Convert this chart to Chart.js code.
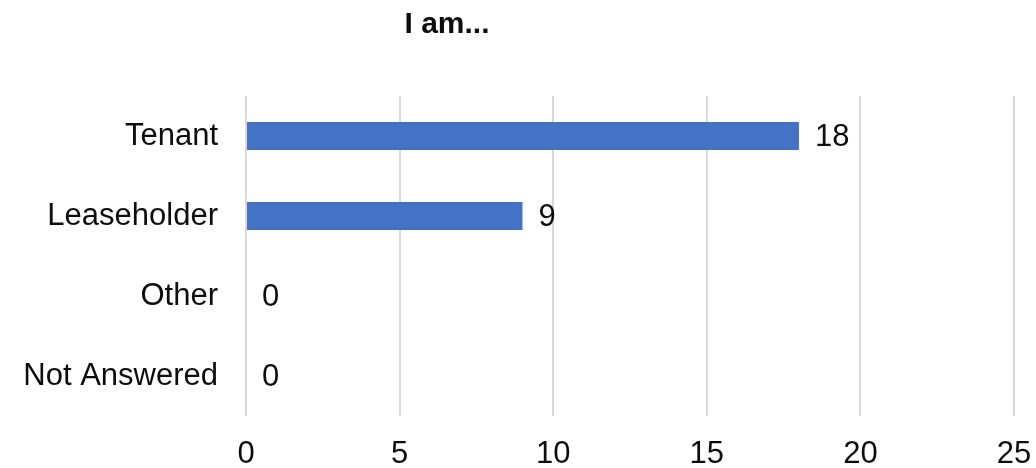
<!DOCTYPE html>
<html>
<head>
<meta charset="utf-8">
<title>I am...</title>
<script src="https://cdn.jsdelivr.net/npm/chart.js@4/dist/chart.umd.min.js"></script>
<style>
  html, body { margin: 0; padding: 0; background: #fff; }
  #wrap { width: 1036px; height: 468px; }
</style>
</head>
<body>
<div id="wrap"><canvas id="chart" width="1036" height="468"></canvas></div>
<script>
// Survey answers
const chartTitle = 'I am...';
const categories = ['Tenant', 'Leaseholder', 'Other', 'Not Answered'];
const counts = [18, 9, 0, 0];
const xTicks = [0, 5, 10, 15, 20, 25];

const FONT = "'Liberation Sans', Arial, sans-serif";
const TEXT = '#0d0d0d';
const SIZE = 31;

// Title sits left of centre, above the bars
const titlePlugin = {
    id: 'titleText',
    afterDraw(chart) {
        const ctx = chart.ctx;
        ctx.save();
        ctx.font = 'bold 30px ' + FONT;
        ctx.fillStyle = TEXT;
        ctx.textAlign = 'center';
        ctx.textBaseline = 'alphabetic';
        ctx.fillText(chartTitle, 447, 33);
        ctx.restore();
    }
};

// Value printed just past the end of each bar
const valueLabels = {
    id: 'valueLabels',
    afterDatasetsDraw(chart) {
        const ctx = chart.ctx;
        const meta = chart.getDatasetMeta(0);
        ctx.save();
        ctx.font = SIZE + 'px ' + FONT;
        ctx.fillStyle = TEXT;
        ctx.textAlign = 'left';
        ctx.textBaseline = 'middle';
        meta.data.forEach((bar, i) => {
            ctx.fillText(String(counts[i]), bar.x + 16, bar.y + 1);
        });
        ctx.restore();
    }
};

new Chart(document.getElementById('chart'), {
    type: 'bar',
    data: {
        labels: categories,
        datasets: [{
            data: counts,
            backgroundColor: '#4472C4',
            borderWidth: 0,
            categoryPercentage: 1,
            barPercentage: 0.35
        }]
    },
    options: {
        indexAxis: 'y',
        responsive: false,
        animation: false,
        layout: { padding: { top: 96, right: 22, bottom: 0, left: 0 } },
        plugins: {
            legend: { display: false },
            tooltip: { enabled: false }
        },
        scales: {
            x: {
                min: 0,
                max: 25,
                afterFit(scale) {
                    scale.height = 52;
                    scale.paddingLeft = 0;
                    scale.paddingRight = 0;
                },
                afterBuildTicks(scale) { scale.ticks = xTicks.map(v => ({ value: v })); },
                grid: { color: '#d9d9d9', lineWidth: 2, drawTicks: false },
                border: { display: false },
                ticks: {
                    padding: 20,
                    color: TEXT,
                    font: { family: FONT, size: SIZE }
                }
            },
            y: {
                afterFit(scale) { scale.width = 246; },
                grid: { display: false, drawTicks: false },
                border: { display: false },
                ticks: {
                    padding: 28,
                    color: TEXT,
                    font: { family: FONT, size: SIZE }
                }
            }
        }
    },
    plugins: [titlePlugin, valueLabels]
});
</script>
</body>
</html>
